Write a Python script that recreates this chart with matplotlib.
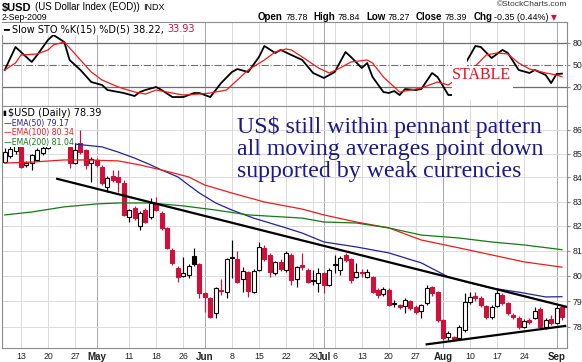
import matplotlib
matplotlib.use("Agg")
import matplotlib.pyplot as plt
import pandas as pd
from matplotlib.patches import Rectangle
from matplotlib.ticker import NullLocator

W, H = 582, 362

# trading days on the chart (market shut 10 Apr, 25 May, 3 Jul)
closed = pd.to_datetime(['2009-04-10', '2009-05-25', '2009-07-03'])
days = pd.bdate_range('2009-04-07', '2009-09-02')
days = days[~days.isin(closed)]

opens = [84.65, 84.90, 85.10, 85.28, 84.52, 84.60, 84.73, 85.02, 85.25, 85.75,
         85.90, 85.70, 85.28, 84.60, 85.45, 85.15, 84.60, 84.73, 84.44, 83.60,
         84.06, 84.02, 83.77, 82.36, 82.73, 82.00, 82.65, 82.36, 82.90, 82.53,
         81.92, 81.03, 80.31, 79.99, 80.03, 80.79, 80.47, 79.31, 79.12, 78.53,
         79.43, 79.35, 80.72, 80.67, 79.87, 80.15, 79.35, 80.23, 81.11, 80.83,
         80.11, 80.55, 80.23, 80.83, 79.85, 80.43, 80.23, 79.80, 79.71, 80.11,
         79.63, 80.43, 80.23, 80.83, 80.67, 79.95, 80.15, 79.95, 79.95, 79.43,
         79.28, 79.43, 78.90, 78.84, 78.81, 79.00, 78.77, 78.61, 78.92, 79.55,
         79.35, 78.26, 77.60, 77.60, 77.56, 77.87, 78.96, 79.20, 79.12, 78.81,
         78.38, 78.81, 79.24, 78.92, 78.45, 78.34, 77.99, 78.26, 78.34, 78.69,
         77.99, 78.30, 78.14, 78.78]
highs = [85.25, 85.40, 85.60, 85.35, 84.70, 85.00, 85.25, 85.45, 85.85, 86.10,
         86.00, 85.85, 85.40, 85.45, 86.00, 85.20, 84.85, 84.80, 84.50, 84.05,
         84.31, 84.30, 83.90, 82.70, 82.80, 82.60, 82.75, 83.15, 83.20, 82.60,
         81.95, 81.10, 80.40, 80.75, 80.45, 81.11, 80.50, 79.35, 79.15, 79.55,
         79.87, 80.70, 81.43, 81.00, 80.35, 80.20, 80.25, 81.35, 81.23, 80.90,
         80.60, 80.65, 81.00, 80.90, 80.40, 80.91, 80.30, 80.23, 80.31, 80.15,
         80.30, 80.83, 80.80, 80.90, 80.70, 80.51, 80.25, 80.25, 80.00, 79.50,
         79.55, 79.50, 79.04, 78.90, 79.12, 79.05, 78.85, 78.90, 79.63, 79.60,
         79.40, 78.30, 77.85, 77.65, 78.05, 79.31, 79.35, 79.35, 79.20, 78.85,
         78.85, 79.43, 79.30, 78.95, 78.55, 78.40, 78.30, 78.35, 78.77, 78.75,
         78.35, 78.45, 78.84, 78.84]
lows = [84.60, 84.80, 85.00, 84.38, 84.45, 84.31, 84.70, 84.95, 85.20, 85.60,
        85.55, 85.40, 84.40, 84.55, 85.00, 84.35, 83.82, 84.45, 83.70, 83.39,
        83.80, 83.39, 82.40, 82.16, 82.25, 81.84, 82.10, 82.30, 82.60, 81.85,
        81.05, 80.43, 79.75, 79.95, 79.91, 80.40, 79.12, 78.57, 78.34, 78.34,
        79.24, 79.12, 79.90, 79.70, 79.35, 79.16, 79.30, 80.20, 80.60, 79.95,
        80.03, 80.20, 80.15, 79.63, 79.55, 80.23, 79.70, 79.63, 79.35, 79.31,
        79.60, 80.11, 80.03, 80.55, 79.71, 79.90, 79.95, 79.90, 79.30, 79.10,
        79.20, 78.80, 78.77, 78.70, 78.53, 78.65, 78.50, 78.34, 78.85, 79.20,
        78.20, 77.50, 77.50, 77.45, 77.50, 77.80, 78.90, 79.00, 78.75, 78.30,
        78.30, 78.75, 78.85, 78.45, 78.30, 77.90, 77.95, 78.10, 78.30, 77.95,
        77.92, 78.05, 78.10, 78.27]
closes = [85.05, 85.20, 85.35, 84.44, 84.62, 84.94, 85.15, 85.24, 85.75, 85.90,
          85.70, 85.55, 84.60, 85.15, 85.08, 84.52, 84.75, 84.52, 83.77, 83.98,
          83.89, 83.81, 82.45, 82.65, 82.32, 82.53, 82.16, 82.94, 82.65, 81.92,
          81.11, 80.51, 79.95, 80.11, 80.39, 80.47, 79.31, 79.16, 78.38, 79.51,
          79.39, 80.67, 80.75, 79.75, 80.19, 79.39, 80.19, 81.15, 80.67, 80.15,
          80.55, 80.27, 80.91, 79.83, 80.35, 80.33, 79.75, 79.83, 80.11, 79.63,
          80.23, 80.47, 80.71, 80.63, 79.83, 80.15, 80.11, 80.15, 79.35, 79.24,
          79.47, 78.84, 78.92, 78.77, 79.04, 78.73, 78.57, 78.84, 79.51, 79.31,
          78.26, 77.58, 77.76, 77.52, 77.99, 78.96, 79.16, 79.12, 78.84, 78.38,
          78.77, 79.31, 78.92, 78.53, 78.38, 77.99, 78.22, 78.20, 78.61, 77.99,
          78.26, 78.14, 78.74, 78.39]

tick_days = ['2009-04-13', '2009-04-20', '2009-04-27', '2009-05-01', '2009-05-11',
             '2009-05-18', '2009-05-26', '2009-06-01', '2009-06-08', '2009-06-15',
             '2009-06-22', '2009-06-29', '2009-07-01', '2009-07-06', '2009-07-13',
             '2009-07-20', '2009-07-27', '2009-08-03', '2009-08-10', '2009-08-17',
             '2009-08-24', '2009-09-01']
tick_labels = ['13', '20', '27', 'May', '11', '18', '26', 'Jun', '8', '15', '22',
               '29', 'Jul', '6', '13', '20', '27', 'Aug', '10', '17', '24', 'Sep']
months = ['May', 'Jun', 'Jul', 'Aug', 'Sep']
price_ticks = [78, 79, 80, 81, 82, 83, 84, 85, 86]
sto_ticks = [20, 50, 80]

# moving averages at some days (day number from the left)
ema50_day = [13, 18, 21, 24, 27, 29, 32, 34, 36, 39, 42, 46, 49, 52, 55, 59, 65,
             71, 77, 82, 86, 90, 95, 100, 103]
ema50_val = [85.40, 85.28, 85.06, 84.81, 84.52, 84.31, 84.02, 83.68, 83.35, 82.94,
             82.65, 82.32, 82.12, 81.92, 81.71, 81.35, 81.15, 80.91, 80.51, 79.95,
             79.71, 79.51, 79.35, 79.16, 79.17]
ema100_day = [0, 5, 11, 15, 21, 25, 29, 34, 37, 42, 48, 55, 59, 65, 71, 77, 84, 90,
              96, 103]
ema100_val = [84.60, 84.64, 84.73, 84.73, 84.69, 84.52, 84.31, 84.02, 83.68, 83.35,
              82.98, 82.69, 82.45, 82.16, 81.92, 81.43, 81.11, 80.83, 80.55, 80.34]
ema200_day = [0, 5, 11, 17, 21, 27, 33, 39, 45, 55, 59, 65, 71, 77, 84, 90, 96, 103]
ema200_val = [82.45, 82.57, 82.78, 82.90, 82.94, 82.94, 82.82, 82.65, 82.45, 82.32,
              82.16, 82.12, 81.92, 81.63, 81.51, 81.35, 81.23, 81.04]

# pennant lines drawn by hand on the chart
top_line_day = [9.7, 103.9]
top_line_val = [83.94, 78.77]
low_line_day = [78.0, 103.6]
low_line_val = [77.32, 78.03]

# slow stochastics %K(15) and %D(5)
k_day = [0, 2, 3, 5, 6, 8, 9, 11, 12, 14, 16, 18, 19, 21, 22, 24, 25, 26, 28, 29,
         31, 33, 35, 36, 38, 39, 40, 42, 43, 45, 47, 48, 50, 51, 53, 55, 57, 59, 61,
         63, 64, 66, 67, 68, 70, 71, 72, 73, 74, 76, 77, 79, 80, 82, 83, 85, 87, 88,
         90, 92, 93, 95, 97, 98, 100, 101, 102, 103]
k_val = [43.2, 74.5, 67.7, 54.1, 63.6, 84.1, 90.9, 81.4, 56.8, 43.2, 26.8, 22.7,
         15.9, 13.2, 11.8, 7.7, 13.2, 15.9, 20.0, 15.9, 6.3, 6.3, 11.8, 11.8, 6.3,
         15.9, 25.4, 40.4, 44.5, 40.4, 60.9, 75.9, 66.4, 70.5, 63.6, 56.8, 39.1, 32.3,
         40.4, 67.7, 60.9, 45.9, 52.7, 33.6, 13.2, 11.8, 14.5, 9.1, 17.2, 15.9, 17.2,
         39.1, 33.6, 9.1, 9.1, 50.0, 75.9, 74.5, 59.5, 70.5, 66.4, 43.2, 39.1, 43.2,
         36.3, 25.4, 37.7, 38.22]
d_day = [0, 2, 3, 6, 8, 9, 11, 12, 14, 16, 18, 21, 24, 26, 28, 31, 33, 36, 38, 41,
         43, 45, 48, 50, 52, 53, 55, 58, 60, 62, 64, 67, 68, 70, 72, 73, 75, 77, 79,
         80, 82, 87, 89, 91, 93, 95, 97, 100, 102, 103]
d_val = [43.2, 52.7, 63.6, 65.0, 70.5, 77.3, 81.4, 73.2, 56.8, 40.4, 29.5, 20.0,
         13.2, 10.4, 15.9, 11.8, 9.1, 10.4, 11.8, 15.9, 29.5, 43.2, 56.8, 67.7, 71.8,
         70.5, 60.9, 45.9, 39.1, 45.9, 54.1, 56.8, 52.7, 33.6, 20.0, 13.2, 15.9, 18.6,
         24.1, 26.8, 22.7, 48.6, 63.6, 66.4, 65.0, 52.7, 44.5, 39.1, 36.3, 33.93]

RED = '#d0103a'
NAVY = '#1a1a82'
SANS = 'Liberation Sans'


def fx(x):
    return x / W


def fy(y):
    return 1 - y / H


fig = plt.figure(figsize=(W / 100, H / 100), dpi=100)
left, right = 2, 566.7
ax_s = fig.add_axes([fx(left), fy(106), (right - left) / W, (106 - 22) / H])
ax = fig.add_axes([fx(left), fy(348), (right - left) / W, (348 - 106) / H])

n = len(days)
xs = list(range(n))
tick_pos = [days.get_loc(pd.Timestamp(d)) for d in tick_days]

for a in (ax, ax_s):
    a.set_xlim(-0.5, n - 0.12)
    for p, lab in zip(tick_pos, tick_labels):
        a.axvline(p, color='#a8a8a8' if lab in months else '#dadada', lw=0.7, zorder=0)
    for s in a.spines.values():
        s.set_color('#8c8c8c')
        s.set_linewidth(0.8)
    a.set_xticks(tick_pos)
    a.yaxis.tick_right()

# ---- price panel
for v in price_ticks:
    ax.axhline(v, color='#dadada', lw=0.7, zorder=0)

face, edge, bottoms, heights = [], [], [], []
for i in range(n):
    prev = closes[i - 1] if i else opens[i]
    col = RED if closes[i] < prev else 'black'
    edge.append(col)
    face.append('white' if closes[i] > opens[i] else col)
    bottoms.append(min(opens[i], closes[i]))
    heights.append(max(abs(closes[i] - opens[i]), 0.01))

ax.vlines(xs, lows, highs, colors=edge, lw=0.85, zorder=2)
ax.bar(xs, heights, width=0.74, bottom=bottoms, color=face, edgecolor=edge,
       linewidth=0.8, zorder=3)

ax.plot(ema50_day, ema50_val, color='#22229a', lw=0.9, zorder=4)
ax.plot(ema100_day, ema100_val, color='#ee1a1a', lw=0.9, zorder=4)
ax.plot(ema200_day, ema200_val, color='#137a13', lw=0.9, zorder=4)
ax.plot(top_line_day, top_line_val, color='black', lw=1.6, zorder=5)
ax.plot(low_line_day, low_line_val, color='black', lw=1.6, zorder=5)

ax.set_yscale('log')
ax.set_ylim(77.18, 87.03)
ax.set_yticks(price_ticks)
ax.set_yticklabels([str(v) for v in price_ticks])
ax.yaxis.set_minor_locator(NullLocator())
ax.tick_params(axis='y', length=2, pad=2, labelsize=6.3, color='#8c8c8c',
               labelcolor='#222222')
ax.set_xticklabels(tick_labels)
ax.tick_params(axis='x', length=0, pad=3, labelsize=6.3, labelcolor='#222222')
for lbl in ax.get_xticklabels() + ax.get_yticklabels():
    lbl.set_family(SANS)
for lbl in ax.get_xticklabels():
    if lbl.get_text() in months:
        lbl.set_fontweight('bold')
        lbl.set_fontsize(7)

# ---- stochastics panel
ax_s.set_ylim(-5.9, 108.6)
ax_s.axhline(80, color='#6e6e6e', lw=0.9, zorder=1)
ax_s.axhline(20, color='#6e6e6e', lw=0.9, zorder=1)
ax_s.axhline(50, color='#6e6e6e', lw=0.8, ls='-.', zorder=1)
ax_s.plot(k_day, k_val, color='black', lw=1.3, zorder=3)
ax_s.plot(d_day, d_val, color='#ee1a1a', lw=0.9, zorder=3)
ax_s.set_yticks(sto_ticks)
ax_s.set_yticklabels([str(v) for v in sto_ticks])
ax_s.tick_params(axis='y', length=2, pad=2, labelsize=6.3, color='#8c8c8c',
                 labelcolor='#222222')
ax_s.tick_params(axis='x', length=0, labelbottom=False)
for lbl in ax_s.get_yticklabels():
    lbl.set_family(SANS)

# hand-drawn "STABLE" note with its white cover
for x0, y0, x1, y1 in [(452, 57, 467, 100), (467, 66, 513, 100)]:
    fig.add_artist(Rectangle((fx(x0), fy(y1)), (x1 - x0) / W, (y1 - y0) / H,
                             transform=fig.transFigure, facecolor='white',
                             edgecolor='none', zorder=5))
fig.text(fx(452), fy(75), 'STABLE', color='#e8101c', family='Liberation Serif',
         fontsize=11.5, va='center', zorder=6)

# big note
for yy, line in zip([127, 149, 172], ['US$ still within pennant pattern',
                                      'all moving averages point down',
                                      'supported by weak currencies']):
    fig.text(fx(237), fy(yy), line, color=NAVY, family='Liberation Serif',
             fontsize=17.2, va='center', zorder=6)

# header
def chain(prev, text, gap=2.5, **kw):
    return ax_s.annotate(text, xy=(1, 0), xycoords=prev, xytext=(gap, 0),
                         textcoords='offset points', va='bottom',
                         annotation_clip=False, **kw)


t = fig.text(fx(2), fy(7.5), '$USD', fontsize=8, weight='bold', family=SANS,
             va='center')
t = chain(t, '(US Dollar Index (EOD))', fontsize=7, family=SANS)
chain(t, 'INDX', fontsize=6.5, family=SANS)
fig.text(fx(2), fy(18), '2-Sep-2009', fontsize=6.3, family=SANS, va='center')
fig.text(fx(567), fy(5), '\u00a9StockCharts.com', fontsize=6, family=SANS,
         ha='right', va='center', color='#333333')

t = fig.text(fx(258), fy(17.5), 'Open', fontsize=7, weight='bold', family=SANS,
             va='center')
parts = [('78.78', False), ('High', True), ('78.84', False), ('Low', True),
         ('78.27', False), ('Close', True), ('78.39', False), ('Chg', True),
         ('-0.35 (0.44%)', False)]
for text, bold in parts:
    if bold:
        t = chain(t, text, gap=4.3, fontsize=7, weight='bold', family=SANS)
    else:
        t = chain(t, text, gap=1.6, fontsize=6.4, family=SANS)
chain(t, '\u25bc', gap=1.5, fontsize=5.5, color=RED, family='DejaVu Sans')

# legends
box = dict(facecolor='white', edgecolor='none', pad=0.6)
t = fig.text(fx(3), fy(29), '\u2501 Slow STO %K(15) %D(5) 38.22,', fontsize=7,
             family='DejaVu Sans', va='center', bbox=box, zorder=7)
chain(t, '33.93', gap=2.5, fontsize=7, family='DejaVu Sans', color=RED,
      bbox=box)

fig.text(fx(2.5), fy(113), '\u25ae', fontsize=5, family='DejaVu Sans',
         va='center', zorder=7)
fig.text(fx(8), fy(113), '$USD (Daily) 78.39', fontsize=7, family='DejaVu Sans',
         va='center', bbox=box, zorder=7)
for yy, txt, col in [(123, '\u2014EMA(50) 79.17', '#22229a'),
                     (132.5, '\u2014EMA(100) 80.34', '#ee1a1a'),
                     (142, '\u2014EMA(200) 81.04', '#137a13')]:
    fig.text(fx(4), fy(yy), txt, fontsize=5.6, family='DejaVu Sans', color=col,
             va='center', bbox=box, zorder=7)

fig.savefig('out.png', dpi=100, facecolor='white')
